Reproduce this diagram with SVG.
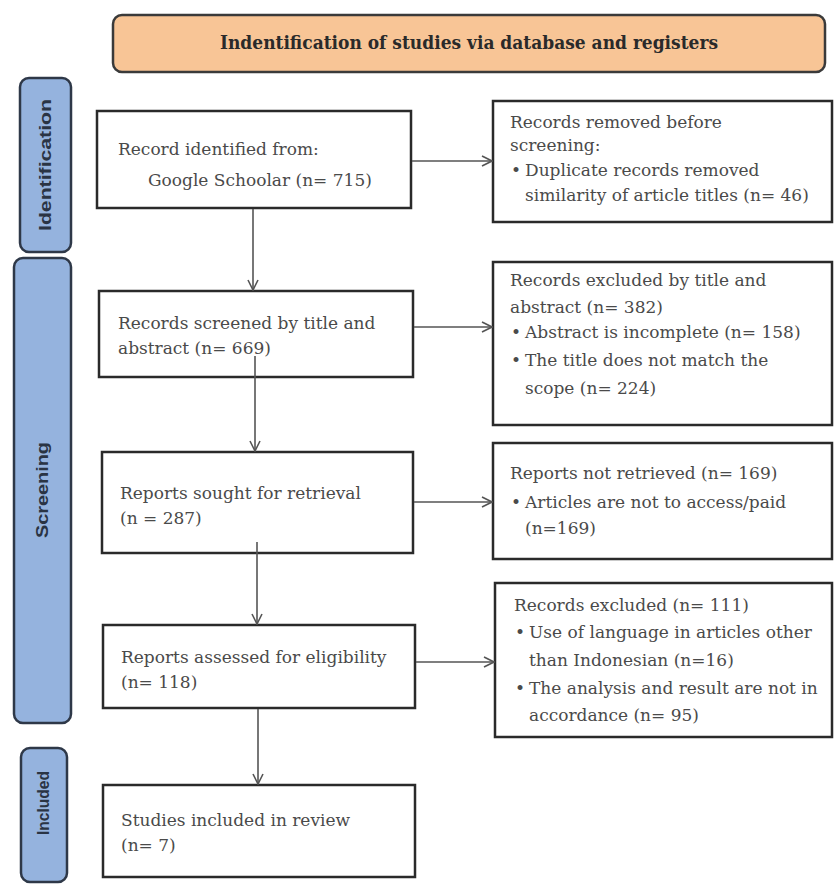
<svg xmlns="http://www.w3.org/2000/svg" width="835" height="886" viewBox="0 0 835 886">
<defs>
<style>
.box{fill:#fff;stroke:#2a2a2a;stroke-width:2.5}
.side{fill:#95b3de;stroke:#2e3848;stroke-width:2.5}
.hdr{fill:#f8c596;stroke:#3a3a3a;stroke-width:2.5}
.t{font-family:"DejaVu Serif","Liberation Serif",serif;font-size:17px;fill:#4a4a4a}
.ht{font-family:"DejaVu Serif","Liberation Serif",serif;font-size:18.5px;font-weight:bold;fill:#2a2a2a}
.st{font-family:"Liberation Sans","DejaVu Sans",sans-serif;font-size:16px;font-weight:bold;fill:#2a3444}
.c{fill:none;stroke:#555;stroke-width:1.6}
</style>
<marker id="ah" viewBox="0 0 12 12" refX="11" refY="6" markerWidth="12" markerHeight="12" markerUnits="userSpaceOnUse" orient="auto">
<path d="M1,1 L11,6 L1,11" fill="none" stroke="#555" stroke-width="1.6"/>
</marker>
</defs>
<rect width="835" height="886" fill="#fff"/>

<g id="header">
<rect class="hdr" x="113" y="15" width="712" height="57" rx="9"/>
<text class="ht" x="469" y="49" text-anchor="middle" textLength="498" lengthAdjust="spacingAndGlyphs">Indentification of studies via database and registers</text>
</g>

<g id="side-identification">
<rect class="side" x="20" y="78" width="51" height="174" rx="9"/>
<text class="st" transform="translate(51,165) rotate(-90)" text-anchor="middle" textLength="132" lengthAdjust="spacingAndGlyphs">Identification</text>
</g>
<g id="side-screening">
<rect class="side" x="14" y="258" width="57" height="465" rx="9"/>
<text class="st" transform="translate(48,490) rotate(-90)" text-anchor="middle" textLength="96" lengthAdjust="spacingAndGlyphs">Screening</text>
</g>
<g id="side-included">
<rect class="side" x="21" y="748" width="46" height="134" rx="9"/>
<text class="st" transform="translate(49,803) rotate(-90)" text-anchor="middle" textLength="64" lengthAdjust="spacingAndGlyphs">Included</text>
</g>

<g id="record-identified">
<rect class="box" x="97" y="111" width="314" height="97"/>
<text class="t" x="118" y="155">Record identified from:</text>
<text class="t" x="148" y="186">Google Schoolar (n= 715)</text>
</g>
<g id="records-screened">
<rect class="box" x="99" y="291" width="314" height="86"/>
<text class="t" x="118" y="329">Records screened by title and</text>
<text class="t" x="118" y="354">abstract (n= 669)</text>
</g>
<g id="reports-sought">
<rect class="box" x="102" y="452" width="311" height="101"/>
<text class="t" x="120" y="499">Reports sought for retrieval</text>
<text class="t" x="120" y="524">(n = 287)</text>
</g>
<g id="reports-assessed">
<rect class="box" x="103" y="625" width="312" height="83"/>
<text class="t" x="121" y="663">Reports assessed for eligibility</text>
<text class="t" x="121" y="688">(n= 118)</text>
</g>
<g id="studies-included">
<rect class="box" x="103" y="785" width="312" height="92"/>
<text class="t" x="121" y="826">Studies included in review</text>
<text class="t" x="121" y="851">(n= 7)</text>
</g>

<g id="records-removed">
<rect class="box" x="493" y="101" width="339" height="121"/>
<text class="t" x="510" y="128">Records removed before</text>
<text class="t" x="510" y="151">screening:</text>
<text class="t" x="511" y="176">•</text>
<text class="t" x="525" y="176">Duplicate records removed</text>
<text class="t" x="525" y="201">similarity of article titles (n= 46)</text>
</g>
<g id="records-excluded-title">
<rect class="box" x="493" y="262" width="339" height="163"/>
<text class="t" x="510" y="286">Records excluded by title and</text>
<text class="t" x="510" y="313">abstract (n= 382)</text>
<text class="t" x="511" y="338">•</text>
<text class="t" x="525" y="338">Abstract is incomplete (n= 158)</text>
<text class="t" x="511" y="366">•</text>
<text class="t" x="525" y="366">The title does not match the</text>
<text class="t" x="525" y="394">scope (n= 224)</text>
</g>
<g id="reports-not-retrieved">
<rect class="box" x="493" y="443" width="339" height="116"/>
<text class="t" x="510" y="479">Reports not retrieved (n= 169)</text>
<text class="t" x="511" y="508">•</text>
<text class="t" x="525" y="508">Articles are not to access/paid</text>
<text class="t" x="525" y="534">(n=169)</text>
</g>
<g id="records-excluded">
<rect class="box" x="495" y="583" width="337" height="154"/>
<text class="t" x="514" y="611">Records excluded (n= 111)</text>
<text class="t" x="515" y="638">•</text>
<text class="t" x="529" y="638">Use of language in articles other</text>
<text class="t" x="529" y="666">than Indonesian (n=16)</text>
<text class="t" x="515" y="694">•</text>
<text class="t" x="529" y="694">The analysis and result are not in</text>
<text class="t" x="529" y="721">accordance (n= 95)</text>
</g>

<g id="connectors">
<line class="c" x1="412" y1="161" x2="492" y2="161" marker-end="url(#ah)"/>
<line class="c" x1="414" y1="327" x2="492" y2="327" marker-end="url(#ah)"/>
<line class="c" x1="414" y1="502" x2="492" y2="502" marker-end="url(#ah)"/>
<line class="c" x1="416" y1="662" x2="494" y2="662" marker-end="url(#ah)"/>
<line class="c" x1="253" y1="209" x2="253" y2="290" marker-end="url(#ah)"/>
<line class="c" x1="255" y1="356" x2="255" y2="451" marker-end="url(#ah)"/>
<line class="c" x1="257" y1="542" x2="257" y2="624" marker-end="url(#ah)"/>
<line class="c" x1="258" y1="709" x2="258" y2="784" marker-end="url(#ah)"/>
</g>
</svg>
